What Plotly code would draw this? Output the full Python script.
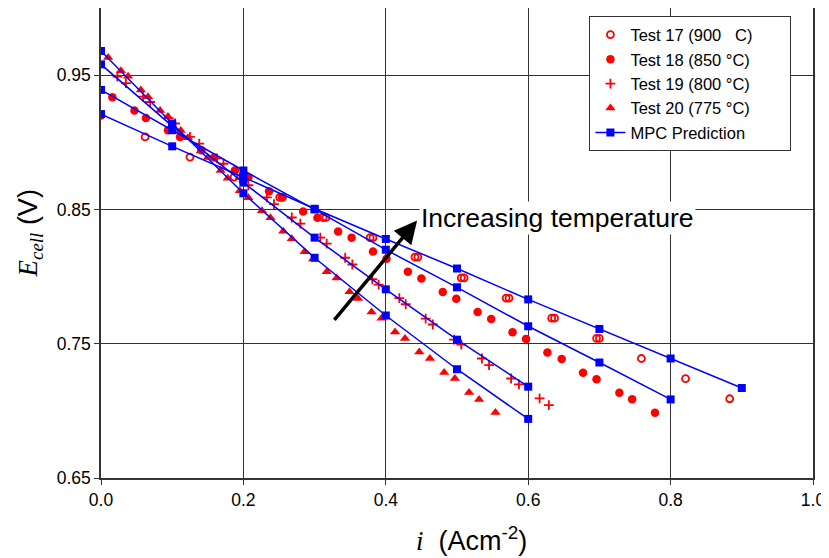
import plotly.graph_objects as go

# ---------------- data ----------------
x17 = [0.0, 0.062, 0.125, 0.187, 0.251, 0.255, 0.312, 0.316, 0.378, 0.382, 0.441, 0.445,
       0.506, 0.510, 0.569, 0.573, 0.633, 0.637, 0.696, 0.700, 0.759, 0.821, 0.883]
y17 = [0.920, 0.904, 0.889, 0.874, 0.859, 0.859, 0.844, 0.844, 0.829, 0.829, 0.8145, 0.8145,
       0.799, 0.799, 0.784, 0.784, 0.769, 0.769, 0.754, 0.754, 0.739, 0.724, 0.709]

x18 = [0.016, 0.047, 0.063, 0.094, 0.111, 0.141, 0.159, 0.188, 0.207, 0.236, 0.254, 0.284,
       0.304, 0.333, 0.352, 0.382, 0.401, 0.431, 0.450, 0.480, 0.499, 0.529, 0.548, 0.578,
       0.597, 0.627, 0.647, 0.677, 0.696, 0.728, 0.746, 0.778]
y18 = [0.9335, 0.9236, 0.918, 0.909, 0.904, 0.894, 0.8886, 0.879, 0.874, 0.8636, 0.859, 0.8485,
       0.8438, 0.8336, 0.829, 0.8186, 0.8132, 0.8036, 0.7986, 0.7885, 0.7835, 0.7737, 0.7684, 0.7585,
       0.7536, 0.7434, 0.7387, 0.7283, 0.7236, 0.7134, 0.7087, 0.6986]

x19 = [0.023, 0.035, 0.059, 0.069, 0.095, 0.104, 0.125, 0.138, 0.163, 0.172, 0.195, 0.207,
       0.233, 0.243, 0.268, 0.280, 0.308, 0.317, 0.343, 0.353, 0.381, 0.390, 0.419, 0.428,
       0.456, 0.466, 0.496, 0.506, 0.535, 0.545, 0.576, 0.587, 0.616, 0.629]
y19 = [0.949, 0.944, 0.934, 0.930, 0.918, 0.914, 0.904, 0.899, 0.888, 0.884, 0.873, 0.868,
       0.859, 0.854, 0.844, 0.8394, 0.829, 0.8245, 0.814, 0.809, 0.798, 0.794, 0.784, 0.7794,
       0.7687, 0.7643, 0.753, 0.7494, 0.739, 0.734, 0.7241, 0.7197, 0.7093, 0.7043]

x20 = [0.010, 0.028, 0.038, 0.056, 0.066, 0.083, 0.094, 0.112, 0.122, 0.140, 0.150, 0.168,
       0.178, 0.195, 0.207, 0.226, 0.238, 0.256, 0.268, 0.286, 0.298, 0.317, 0.331, 0.349,
       0.361, 0.380, 0.394, 0.413, 0.427, 0.447, 0.462, 0.482, 0.497, 0.517, 0.531, 0.554]
y20 = [0.9632, 0.9533, 0.9491, 0.939, 0.934, 0.9236, 0.9192, 0.9087, 0.9033, 0.8935, 0.8886, 0.879,
       0.8733, 0.864, 0.8587, 0.849, 0.8438, 0.8337, 0.8281, 0.8185, 0.813, 0.8035, 0.799, 0.7887,
       0.7836, 0.7737, 0.769, 0.7588, 0.7539, 0.7439, 0.739, 0.7286, 0.7241, 0.7137, 0.7085, 0.6988]

x_mpc17 = [0.0, 0.1, 0.2, 0.3, 0.4, 0.5, 0.6, 0.7, 0.8, 0.9]
y_mpc17 = [0.921, 0.897, 0.874, 0.8505, 0.828, 0.806, 0.783, 0.761, 0.739, 0.717]
x_mpc18 = [0.0, 0.1, 0.2, 0.3, 0.4, 0.5, 0.6, 0.7, 0.8]
y_mpc18 = [0.939, 0.909, 0.879, 0.850, 0.820, 0.792, 0.763, 0.736, 0.7085]
x_mpc19 = [0.0, 0.1, 0.2, 0.3, 0.4, 0.5, 0.6]
y_mpc19 = [0.958, 0.912, 0.870, 0.829, 0.7905, 0.753, 0.718]
x_mpc20 = [0.0, 0.1, 0.2, 0.3, 0.4, 0.5, 0.6]
y_mpc20 = [0.968, 0.914, 0.862, 0.814, 0.771, 0.731, 0.694]

x_ticks = [0.0, 0.2, 0.4, 0.6, 0.8, 1.0]
x_ticklabels = ["0.0", "0.2", "0.4", "0.6", "0.8", "1.0"]
y_ticks = [0.65, 0.75, 0.85, 0.95]
y_ticklabels = ["0.65", "0.75", "0.85", "0.95"]

RED = "#ff0000"
BLUE = "#0000ff"
FONT = "Liberation Sans, Arial, sans-serif"
PAD = "\u00a0" * 7  # widens the legend box like the reference

fig = go.Figure()

fig.add_trace(go.Scatter(x=x17, y=y17, mode="markers", name="Test 17 (900\u00a0\u00a0 C)" + PAD,
                         marker=dict(symbol="circle-open", size=7, color=RED, line=dict(width=1.8, color=RED))))
fig.add_trace(go.Scatter(x=x18, y=y18, mode="markers", name="Test 18 (850 \u00b0C)",
                         marker=dict(symbol="circle", size=8.5, color=RED)))
fig.add_trace(go.Scatter(x=x19, y=y19, mode="markers", name="Test 19 (800 \u00b0C)",
                         marker=dict(symbol="cross-thin", size=7, color=RED, line=dict(width=1.8, color=RED))))
fig.add_trace(go.Scatter(x=x20, y=y20, mode="markers", name="Test 20 (775 \u00b0C)",
                         marker=dict(symbol="triangle-up", size=9, color=RED)))

for i, (xx, yy) in enumerate([(x_mpc17, y_mpc17), (x_mpc18, y_mpc18),
                              (x_mpc19, y_mpc19), (x_mpc20, y_mpc20)]):
    fig.add_trace(go.Scatter(x=xx, y=yy, mode="lines+markers", name="MPC Prediction",
                             legendgroup="mpc", showlegend=(i == 0),
                             line=dict(color=BLUE, width=1.5),
                             marker=dict(symbol="square", size=8, color=BLUE)))

# the page body adds an 8px offset, so the figure is 8px smaller and margins compensate
fig.update_layout(
    width=821, height=550,
    margin=dict(l=93, r=16, t=0, b=80, autoexpand=False),
    paper_bgcolor="white", plot_bgcolor="white",
    font=dict(family=FONT, color="black", size=17),
    showlegend=True,
    legend=dict(x=0.686, y=0.982, xanchor="left", yanchor="top",
                bgcolor="white", bordercolor="#333333", borderwidth=1,
                font=dict(family=FONT, size=16.5, color="black"),
                tracegroupgap=0, itemwidth=30),
    xaxis=dict(range=[0, 1.0], tickvals=x_ticks, ticktext=x_ticklabels,
               showgrid=True, gridcolor="#333333", gridwidth=1,
               showline=True, linecolor="#333333", linewidth=1.5,
               ticks="outside", ticklen=5, tickcolor="#333333",
               tickfont=dict(size=17.5), zeroline=False, automargin=False),
    yaxis=dict(range=[0.65, 1.0], tickvals=y_ticks, ticktext=y_ticklabels,
               showgrid=True, gridcolor="#333333", gridwidth=1,
               showline=True, linecolor="#333333", linewidth=1.5, mirror=True,
               ticks="outside", ticklen=5, tickcolor="#333333",
               tickfont=dict(size=17.5), zeroline=False, automargin=False),
    annotations=[
        dict(x=0.444, y=0.8418, xref="x", yref="y",
             ax=0.326, ay=0.7667, axref="x", ayref="y",
             showarrow=True, arrowhead=2, arrowsize=1.3, arrowwidth=3.5,
             arrowcolor="black", text=""),
        dict(x=0.446, y=0.8435, xref="x", yref="y", xanchor="left", yanchor="middle",
             text="Increasing temperature", showarrow=False, bgcolor="white",
             borderpad=1, font=dict(family=FONT, size=26.5, color="black")),
        dict(x=0.52, y=-0.13, xref="paper", yref="paper", xanchor="center", yanchor="middle",
             showarrow=False,
             text="<span style='font-family:Liberation Serif'><i>i</i></span>  (Acm<sup>-2</sup>)",
             font=dict(family=FONT, size=27, color="black")),
        dict(x=-0.1, y=0.52, xref="paper", yref="paper", xanchor="center", yanchor="middle",
             showarrow=False, textangle=-90,
             text="<span style='font-family:Liberation Serif'><i>E<sub>cell</sub></i></span> (V)",
             font=dict(family=FONT, size=27, color="black")),
    ],
)

fig.write_html("out.html")
